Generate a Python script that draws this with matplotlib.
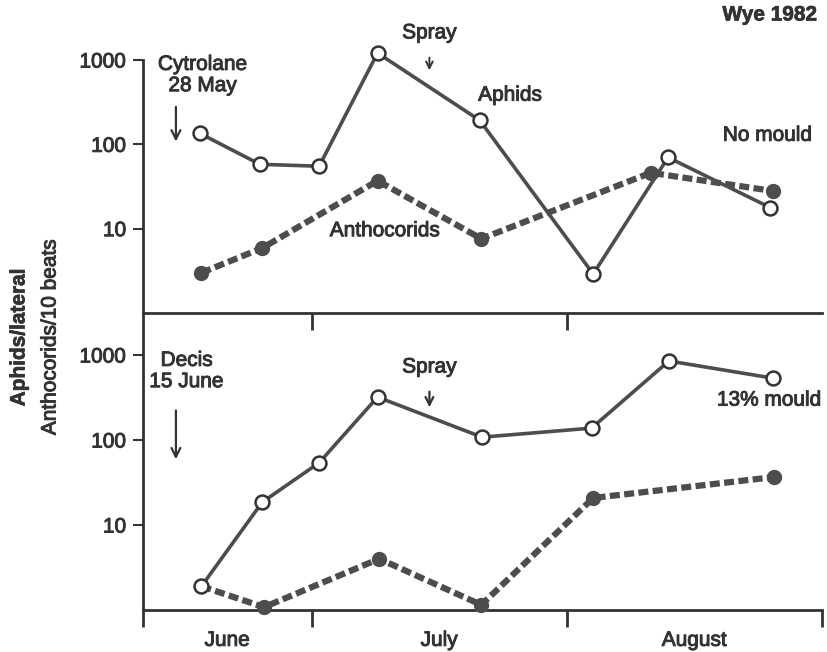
import matplotlib
matplotlib.use("Agg")
import matplotlib.pyplot as plt
import matplotlib.patheffects as pe

plt.rcParams['font.family'] = ['Liberation Sans', 'DejaVu Sans']

# ---- data (x = days counted from 1 June) ----
month_names = ["June", "July", "August"]
month_bounds = [9.5, 30, 61, 92]          # axis start, 1 July, 1 Aug, 1 Sep

top_aphid_days = [16.4, 23.7, 30.9, 38.0, 50.4, 64.2, 73.3, 85.7]
top_aphid_vals = [135, 58, 55, 1210, 193, 2.9, 70, 17.8]
top_antho_days = [16.6, 24.0, 38.0, 50.6, 71.2, 86.0]
top_antho_vals = [3.0, 5.9, 37, 7.6, 46, 28]

bot_aphid_days = [16.6, 24.0, 30.9, 38.0, 50.7, 64.0, 73.4, 86.0]
bot_aphid_vals = [1.9, 18.6, 54, 320, 108, 138, 850, 535]
bot_antho_days = [16.6, 24.2, 38.2, 50.6, 64.2, 86.2]
bot_antho_vals = [1.9, 1.08, 4.0, 1.15, 20.8, 36.7]

ytick_vals = [10, 100, 1000]
ytick_labels = ["10", "100", "1000"]

INK = "#333333"
LINE = "#4d4d4d"
FS = 15
THICK = [pe.withStroke(linewidth=0.7, foreground=INK)]
THICKB = [pe.withStroke(linewidth=0.5, foreground=INK)]

fig = plt.figure(figsize=(8.27, 6.52), dpi=100)
W, H = 827, 652
def rect(x0, y0, x1, y1):
    return [x0 / W, 1 - y1 / H, (x1 - x0) / W, (y1 - y0) / H]

ax1 = fig.add_axes(rect(143, 60, 822, 313))
ax2 = fig.add_axes(rect(143, 313, 822, 610))


def style(ax, ytop, xticks):
    ax.set_yscale('log')
    ax.set_xlim(month_bounds[0], month_bounds[-1])
    ax.set_ylim(1, ytop)
    for s in ['top', 'right']:
        ax.spines[s].set_visible(False)
    for s in ['left', 'bottom']:
        ax.spines[s].set_linewidth(2.0)
        ax.spines[s].set_color(INK)
    ax.set_yticks(ytick_vals)
    ax.set_yticklabels(ytick_labels)
    ax.yaxis.set_minor_locator(matplotlib.ticker.NullLocator())
    ax.tick_params(axis='y', which='major', direction='out', length=7,
                   width=1.5, color=INK, labelsize=FS, labelcolor=INK, pad=5)
    ax.set_xticks(xticks)
    ax.set_xticklabels([])
    ax.tick_params(axis='x', which='major', direction='out', length=12,
                   width=2.0, color=INK)
    ax.patch.set_alpha(0)
    for lab in ax.get_yticklabels():
        lab.set_path_effects(THICK)


style(ax1, 1000, month_bounds[1:3])
style(ax2, 3120, month_bounds)

mids = [(month_bounds[i] + month_bounds[i + 1]) / 2 for i in range(3)]
ax2.set_xticks(mids, minor=True)
ax2.set_xticklabels(month_names, minor=True)
ax2.tick_params(axis='x', which='minor', length=0, pad=15, labelsize=FS,
                labelcolor=INK)
for lab in ax2.get_xticklabels(minor=True):
    lab.set_path_effects(THICK)


def plot_panel(ax, ad, av, nd, nv):
    ax.plot(nd, nv, linestyle=(0, (1.6, 0.7)), color=LINE, lw=4.5,
            marker='o', ms=10, mfc=LINE, mec=LINE, zorder=3, clip_on=False,
            dash_capstyle='butt')
    ax.plot(ad, av, '-', color=LINE, lw=2.6, marker='o', ms=10, mfc='white',
            mec=INK, mew=1.8, zorder=4, clip_on=False)


plot_panel(ax1, top_aphid_days, top_aphid_vals, top_antho_days, top_antho_vals)
plot_panel(ax2, bot_aphid_days, bot_aphid_vals, bot_antho_days, bot_antho_vals)

arrow = dict(arrowstyle='->', color=INK, lw=1.6, mutation_scale=16)
tk = dict(fontsize=FS, color=INK, ha='center', va='center', path_effects=THICK)

# top panel annotations
ax1.text(16.75, 663, "Cytrolane\n28 May", linespacing=1.15, **tk)
ax1.annotate("", xy=(13.5, 100), xytext=(13.5, 300), arrowprops=arrow)
ax1.text(44.3, 2096, "Spray", **tk)
ax1.annotate("", xy=(44.3, 700), xytext=(44.3, 1150),
             arrowprops=dict(arrowstyle='->', color=INK, lw=1.4, mutation_scale=12))
ax1.text(54.1, 383, "Aphids", **tk)
ax1.text(38.9, 9.46, "Anthocorids", **tk)
ax1.text(85.4, 128, "No mould", **tk)

# bottom panel annotations
ax2.text(14.8, 648, "Decis\n15 June", linespacing=1.15, **tk)
ax2.annotate("", xy=(13.5, 55), xytext=(13.5, 240), arrowprops=arrow)
ax2.text(44.3, 722, "Spray", **tk)
ax2.annotate("", xy=(44.3, 225), xytext=(44.3, 400),
             arrowprops=dict(arrowstyle='->', color=INK, lw=1.6, mutation_scale=14))
ax2.text(85.6, 295, "13% mould", **tk)

fig.text(770 / W, 1 - 15 / H, "Wye 1982", fontsize=FS, fontweight='bold',
         color=INK, ha='center', va='center', path_effects=THICKB)
fig.text(19 / W, 1 - 337 / H, "Aphids/lateral", fontsize=FS, fontweight='bold',
         color=INK, ha='center', va='center', rotation=90, path_effects=THICKB)
fig.text(50 / W, 1 - 337 / H, "Anthocorids/10 beats", fontsize=FS,
         color=INK, ha='center', va='center', rotation=90, path_effects=THICK)

fig.savefig("out.png", dpi=100)
